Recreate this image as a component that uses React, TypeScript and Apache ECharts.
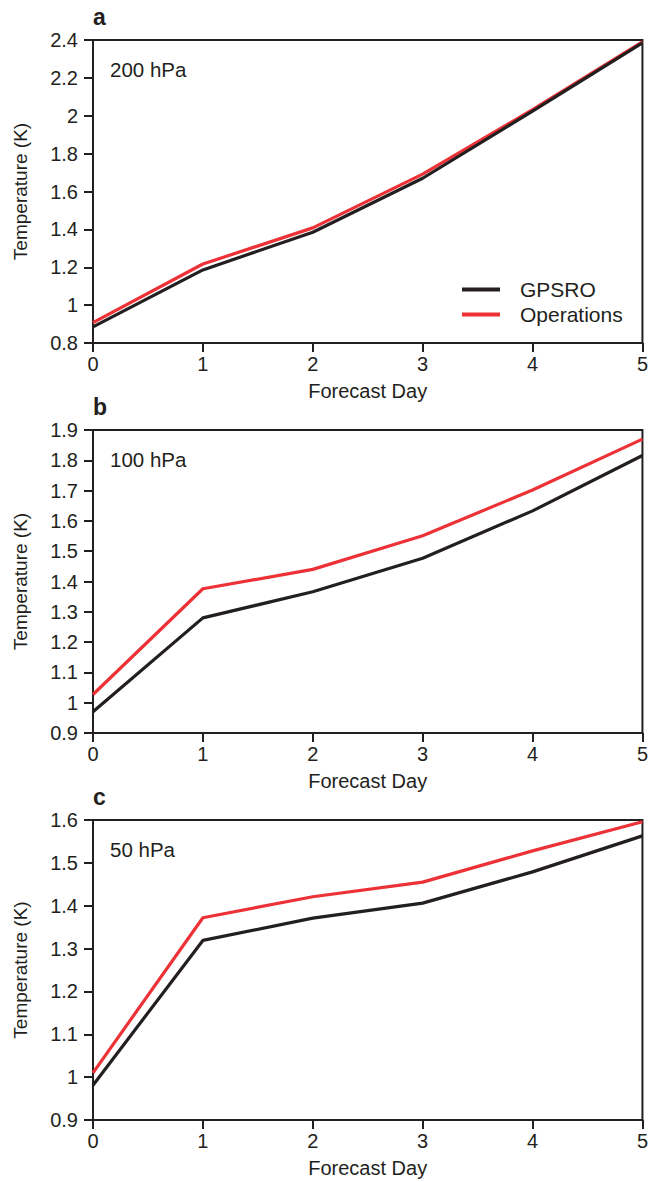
import React, { useEffect, useRef } from "react";
import * as echarts from "echarts";

const days = [0, 1, 2, 3, 4, 5];
const gpsro200 = [0.885, 1.186, 1.385, 1.67, 2.025, 2.385];
const ops200 = [0.908, 1.217, 1.408, 1.692, 2.032, 2.39];
const gpsro100 = [0.97, 1.28, 1.366, 1.477, 1.633, 1.816];
const ops100 = [1.027, 1.376, 1.44, 1.551, 1.702, 1.87];
const gpsro50 = [0.981, 1.319, 1.371, 1.406, 1.479, 1.563];
const ops50 = [1.01, 1.372, 1.421, 1.455, 1.528, 1.596];
const panelLabels = ["a", "b", "c"];
const levelLabels = ["200 hPa", "100 hPa", "50 hPa"];
const yMins = [0.8, 0.9, 0.9];
const yMaxs = [2.4, 1.9, 1.6];
const yIntervals = [0.2, 0.1, 0.1];
const seriesNames = ["GPSRO", "Operations"];

const BLACK = "#231f20";
const RED = "#ec3237";
const FONT = "Liberation Sans, Arial, sans-serif";

export default function App() {
  const ref = useRef<HTMLDivElement>(null);
  useEffect(() => {
    document.body.style.margin = "0";
    const chart = echarts.init(ref.current!, undefined, { renderer: "svg" });
    const tops = [40, 430, 820];
    const heights = [303, 303, 300];
    const data = [
      [gpsro200, ops200],
      [gpsro100, ops100],
      [gpsro50, ops50],
    ];
    const grids = tops.map((t, i) => ({
      left: 93,
      right: 6,
      top: t,
      height: heights[i],
      show: true,
      borderColor: BLACK,
      borderWidth: 2,
      backgroundColor: "transparent",
    }));
    const xAxes = tops.map((_, i) => ({
      type: "value",
      gridIndex: i,
      min: 0,
      max: 5,
      interval: 1,
      name: "Forecast Day",
      nameLocation: "middle",
      nameGap: 38,
      nameTextStyle: { fontFamily: FONT, fontSize: 20, color: BLACK },
      axisLine: { show: true, onZero: false, lineStyle: { color: BLACK, width: 2 } },
      axisTick: { show: true, inside: false, length: 9, lineStyle: { color: BLACK, width: 2 } },
      axisLabel: { fontFamily: FONT, fontSize: 20, color: BLACK, margin: 11 },
      splitLine: { show: false },
    }));
    const yAxes = tops.map((_, i) => ({
      type: "value",
      gridIndex: i,
      min: yMins[i],
      max: yMaxs[i],
      interval: yIntervals[i],
      name: "Temperature (K)",
      nameLocation: "middle",
      nameGap: 63,
      nameRotate: 90,
      nameTextStyle: { fontFamily: FONT, fontSize: 19, color: BLACK },
      axisLine: { show: true, onZero: false, lineStyle: { color: BLACK, width: 2 } },
      axisTick: { show: true, inside: false, length: 9, lineStyle: { color: BLACK, width: 2 } },
      axisLabel: {
        fontFamily: FONT,
        fontSize: 20,
        color: BLACK,
        margin: 15,
        formatter: (v: number) => String(Math.round(v * 10) / 10),
      },
      splitLine: { show: false },
    }));
    const series: any[] = [];
    data.forEach((pair, i) => {
      pair.forEach((vals, j) => {
        series.push({
          type: "line",
          name: seriesNames[j],
          xAxisIndex: i,
          yAxisIndex: i,
          data: days.map((d, k) => [d, vals[k]]),
          showSymbol: false,
          symbol: "none",
          lineStyle: { color: j === 0 ? BLACK : RED, width: 3.2 },
          itemStyle: { color: j === 0 ? BLACK : RED },
          z: j === 0 ? 3 : 2,
        });
      });
    });
    const graphics: any[] = [];
    tops.forEach((t, i) => {
      graphics.push({
        type: "text",
        left: 93,
        top: t - 35,
        style: { text: panelLabels[i], fontFamily: FONT, fontSize: 23, fontWeight: "bold", fill: BLACK },
      });
      graphics.push({
        type: "text",
        left: 110,
        top: t + 19,
        style: { text: levelLabels[i], fontFamily: FONT, fontSize: 20.5, fill: BLACK },
      });
    });
    chart.setOption({
      animation: false,
      backgroundColor: "#ffffff",
      grid: grids,
      xAxis: xAxes,
      yAxis: yAxes,
      series,
      legend: {
        show: true,
        orient: "vertical",
        left: 457,
        top: 274,
        itemWidth: 38,
        itemHeight: 4,
        itemGap: 4,
        icon: "rect",
        data: seriesNames.map((n, j) => ({ name: n, itemStyle: { color: j === 0 ? BLACK : RED } })),
        textStyle: { fontFamily: FONT, fontSize: 21, color: BLACK, padding: [0, 0, 0, 15] },
      },
      graphic: graphics,
    });
    return () => chart.dispose();
  }, []);
  return <div ref={ref} style={{ width: 651, height: 1182, position: "absolute", left: 0, top: 0 }} />;
}
